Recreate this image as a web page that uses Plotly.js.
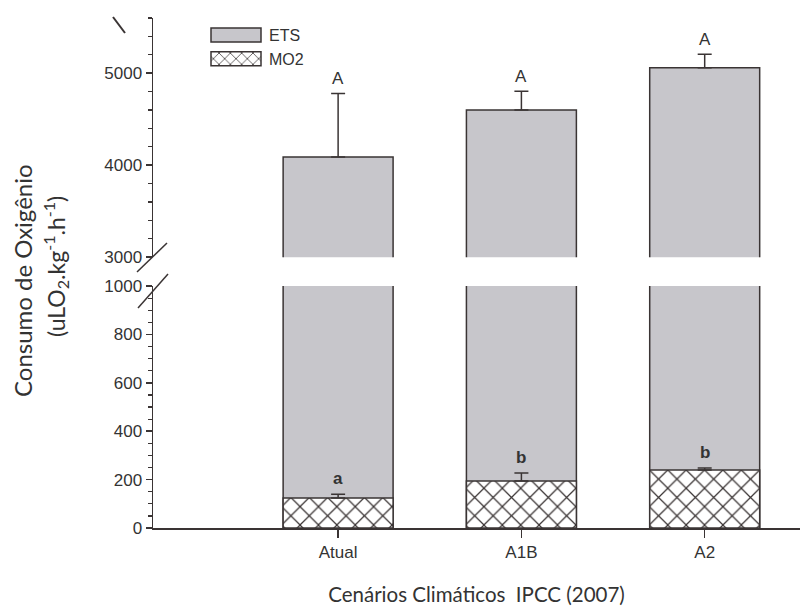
<!DOCTYPE html>
<html>
<head>
<meta charset="utf-8">
<script src="https://cdn.plot.ly/plotly-3.0.1.min.js"></script>
<style>html,body{margin:0;padding:0;background:#fff;}</style>
</head>
<body>
<div id="chart" style="width:800px;height:611px;"></div>
<script>
// ---- data ----
var categories = ["Atual", "A1B", "A2"];
var catPos = [0, 1, 2];
var etsValues = [4090, 4600, 5060];
var etsErr = [690, 205, 145];
var mo2Values = [124, 194, 240];
var mo2Err = [16, 33, 8];
var etsLetters = ["A", "A", "A"];
var mo2Letters = ["a", "b", "b"];
var lowerTicks = [0, 200, 400, 600, 800, 1000];
var upperTicks = [3000, 4000, 5000];

var ink = "#3a3434";
var gray = "#c7c6cb";
var tickFont = {family: "Liberation Sans, Arial, sans-serif", size: 17, color: "#333"};

function zeros(a){ return a.map(function(){ return 0; }); }

var traces = [
  { // ETS lower
    type: "bar", x: catPos, y: etsValues, xaxis: "x", yaxis: "y", width: 0.6,
    name: "ETS", legendgroup: "ETS", showlegend: true,
    marker: {color: gray, line: {color: ink, width: 1.5}},
    hoverinfo: "skip"
  },
  { // MO2 lower
    type: "bar", x: catPos, y: mo2Values, xaxis: "x", yaxis: "y", width: 0.6,
    name: "MO2", legendgroup: "MO2", showlegend: true,
    marker: {color: "white", line: {color: ink, width: 1.5},
      pattern: {shape: "x", fgcolor: ink, bgcolor: "white", size: 13, solidity: 0.18}},
    error_y: {type: "data", symmetric: false, array: mo2Err, arrayminus: zeros(mo2Err),
      color: ink, thickness: 1.5, width: 7}
  },
  { // ETS upper
    type: "bar", x: catPos, y: etsValues, xaxis: "x", yaxis: "y2", width: 0.6,
    name: "ETS", legendgroup: "ETS", showlegend: false,
    marker: {color: gray, line: {color: ink, width: 1.5}},
    error_y: {type: "data", symmetric: false, array: etsErr, arrayminus: zeros(etsErr),
      color: ink, thickness: 1.5, width: 7}
  }
];

// pixel helpers for decorations outside the plot (plot area: x 153..800, y 18..528)
function px(x){ return (x - 153) / 647; }
function py(y){ return (528 - y) / 510; }

var annotations = [];
catPos.forEach(function(p, i){
  annotations.push({x: p, y: etsValues[i] + etsErr[i], xref: "x", yref: "y2",
    text: etsLetters[i], showarrow: false, yanchor: "bottom", yshift: 3,
    font: {family: "Liberation Sans, Arial, sans-serif", size: 17, color: "#333"}});
  annotations.push({x: p, y: mo2Values[i] + mo2Err[i], xref: "x", yref: "y",
    text: mo2Letters[i], showarrow: false, yanchor: "bottom", yshift: 4,
    font: {family: "Liberation Sans, Arial, sans-serif", size: 17, color: "#333", weight: "bold"}});
});
annotations.push({x: px(22), y: py(281), xref: "paper", yref: "paper", showarrow: false,
  text: "Consumo de Oxigênio", textangle: -90, xanchor: "center", yanchor: "middle",
  font: {family: "Lato, sans-serif", size: 24, color: "#333"}});
annotations.push({x: px(55), y: py(267), xref: "paper", yref: "paper", showarrow: false,
  text: "(uLO<sub>2</sub>.kg<sup>-1</sup>.h<sup>-1</sup>)", textangle: -90, xanchor: "center", yanchor: "middle",
  font: {family: "Lato, sans-serif", size: 23, color: "#333"}});

var lineStyle = {color: ink, width: 1.5};
var shapes = [
  {type: "line", xref: "paper", yref: "paper", x0: px(137), y0: py(272), x1: px(167), y1: py(243), line: lineStyle},
  {type: "line", xref: "paper", yref: "paper", x0: px(138), y0: py(308), x1: px(168), y1: py(274), line: lineStyle},
  {type: "line", xref: "paper", yref: "paper", x0: px(113), y0: py(17), x1: px(125), y1: py(33), line: {color: ink, width: 2}}
];

var layout = {
  width: 800, height: 611,
  margin: {l: 153, r: 0, t: 18, b: 83},
  paper_bgcolor: "white", plot_bgcolor: "white",
  barmode: "overlay",
  showlegend: true,
  legend: {x: px(203), y: py(18), xanchor: "left", yanchor: "top", bgcolor: "rgba(0,0,0,0)",
    font: {family: "Liberation Sans, Arial, sans-serif", size: 16, color: "#333"},
    itemwidth: 56, tracegroupgap: 0, traceorder: "normal"},
  xaxis: {range: [-1.01, 2.52], tickvals: catPos, ticktext: categories, anchor: "y",
    showline: true, linecolor: ink, linewidth: 1.5, ticks: "outside", ticklen: 8, tickwidth: 1.5,
    tickcolor: ink, showgrid: false, zeroline: false, tickfont: tickFont, fixedrange: true,
    title: {text: "Cenários Climáticos  IPCC (2007)", standoff: 26,
      font: {family: "Lato, sans-serif", size: 20.5, color: "#333"}}},
  yaxis: {domain: [0, 0.4745], range: [0, 1000], tickvals: lowerTicks, anchor: "x",
    showline: true, linecolor: ink, linewidth: 1.5, ticks: "outside", ticklen: 6, tickwidth: 1.5,
    tickcolor: ink, showgrid: false, zeroline: false, tickfont: tickFont,
    minor: {dtick: 50, ticks: "outside", ticklen: 4, tickwidth: 1.2, tickcolor: ink, showgrid: false}},
  yaxis2: {domain: [0.531, 1], range: [3000, 5600], tickvals: upperTicks, anchor: "x",
    showline: true, linecolor: ink, linewidth: 1.5, ticks: "outside", ticklen: 6, tickwidth: 1.5,
    tickcolor: ink, showgrid: false, zeroline: false, tickfont: tickFont,
    minor: {dtick: 200, ticks: "outside", ticklen: 4, tickwidth: 1.2, tickcolor: ink, showgrid: false}},
  annotations: annotations,
  shapes: shapes
};

var gd = document.getElementById("chart");
function widenLegend(){
  var paths = gd.querySelectorAll(".legend .legendpoints path");
  paths.forEach(function(p){ p.setAttribute("d", "M25,7H-25V-7H25Z"); });
}
Plotly.newPlot(gd, traces, layout, {displayModeBar: false, staticPlot: true}).then(function(){
  widenLegend();
  gd.on("plotly_afterplot", widenLegend);
});
</script>
</body>
</html>
